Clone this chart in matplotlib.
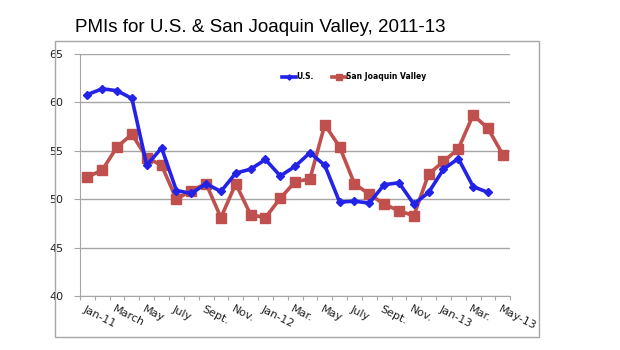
import matplotlib
matplotlib.use("Agg")
import matplotlib.pyplot as plt
from matplotlib.patches import Rectangle

# monthly PMI readings, Jan-11 onward
us_pmi = [60.8, 61.4, 61.2, 60.4, 53.5, 55.3, 50.9, 50.6, 51.6, 50.8, 52.7, 53.1,
          54.1, 52.4, 53.4, 54.8, 53.5, 49.7, 49.8, 49.6, 51.5, 51.7, 49.5, 50.7,
          53.1, 54.2, 51.3, 50.7]
sjv_pmi = [52.3, 53.0, 55.4, 56.7, 54.3, 53.5, 50.0, 50.9, 51.6, 48.1, 51.6, 48.4,
           48.1, 50.1, 51.8, 52.1, 57.7, 55.4, 51.6, 50.5, 49.5, 48.8, 48.3, 52.6,
           53.9, 55.2, 58.7, 57.3, 54.6]
tick_labels = ["Jan-11", "March", "May", "July", "Sept.", "Nov.", "Jan-12", "Mar.",
               "May", "July", "Sept.", "Nov.", "Jan-13", "Mar.", "May-13"]
y_ticks = [40, 45, 50, 55, 60, 65]

fig = plt.figure(figsize=(6.2, 3.5), dpi=100)
fig.patch.set_facecolor("white")

# outer chart frame
fig.patches.append(Rectangle((0.0887, 0.037), 0.7807, 0.846, transform=fig.transFigure,
                             fill=False, edgecolor="#a6a6a6", linewidth=1.0))

fig.text(0.121, 0.909, "PMIs for U.S. & San Joaquin Valley, 2011-13",
         family="Liberation Sans", fontsize=13.5, color="black", va="baseline")

ax = fig.add_axes([0.129, 0.154, 0.694, 0.692])

n = len(sjv_pmi)
ax.plot(range(len(us_pmi)), us_pmi, color="#2323e8", lw=2.6, marker="D", ms=4.5,
        label="U.S.", zorder=3)
ax.plot(range(n), sjv_pmi, color="#c0504d", lw=2.6, marker="s", ms=7,
        label="San Joaquin Valley", zorder=2)

ax.set_xlim(-0.5, n - 0.5)
ax.set_ylim(40, 65)
ax.set_yticks(y_ticks)
ax.set_yticklabels([str(v) for v in y_ticks], fontsize=8, color="#222222")
ax.yaxis.grid(True, color="#a6a6a6", lw=1.0)
ax.set_axisbelow(True)

# tick marks between categories, labels every second month
ax.set_xticks([i - 0.5 for i in range(n + 1)])
ax.set_xticklabels([])
ax.tick_params(axis="x", length=3, color="#a6a6a6")
ax.tick_params(axis="y", length=4, color="#a6a6a6", pad=8)
for i, lab in enumerate(tick_labels):
    ax.text(i * 2 - 0.1, 39.2, lab, rotation=-27, rotation_mode="anchor",
            ha="left", va="top", fontsize=8, color="#222222")

for s in ["top", "right"]:
    ax.spines[s].set_visible(False)
for s in ["left", "bottom"]:
    ax.spines[s].set_color("#a6a6a6")

leg = ax.legend(loc="center", bbox_to_anchor=(0.637, 0.905), ncol=2, frameon=False,
                handlelength=1.8, columnspacing=2.4, handletextpad=0.0,
                markerscale=0.6, prop={"size": 5.5, "weight": "bold"})

fig.savefig("out.png", dpi=100)
